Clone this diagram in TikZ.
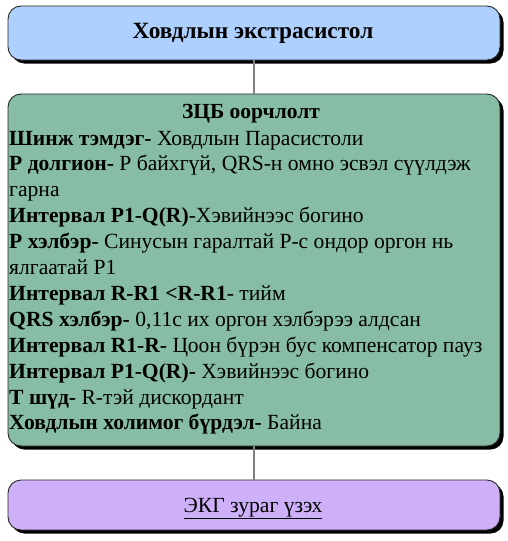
\documentclass[tikz,border=0pt]{standalone}
\usepackage{fontspec}
\setmainfont{Liberation Serif}
\newfontfamily\tnr{Liberation Serif}
\usetikzlibrary{shadows}
\definecolor{bluefill}{HTML}{AED0FF}
\definecolor{greenfill}{HTML}{86BDA4}
\definecolor{purplefill}{HTML}{CDB0F8}
\definecolor{linkgrey}{HTML}{808080}
\tikzset{
  box/.style={draw=black!85, line width=0.9pt, rounded corners=13pt, rectangle,
    minimum width=492pt, inner sep=0pt,
    drop shadow={shadow xshift=3.5pt, shadow yshift=-3.5pt, fill=black, opacity=1}},
  link/.style={draw=linkgrey, line width=1.2pt},
  txt/.style={font=\tnr\fontsize{21.6}{26}\selectfont, inner sep=0pt, text height=15pt, text depth=5pt},
  bold/.style={font=\tnr\fontsize{21.5}{26}\selectfont\bfseries},
  title/.style={font=\tnr\fontsize{23.3}{28}\selectfont\bfseries},
  line/.style={txt, anchor=west}
}
\begin{document}
\begin{tikzpicture}[x=1pt,y=-1pt]
\useasboundingbox (0,0) rectangle (508,541);
\node[box, fill=bluefill, minimum height=54pt] (top) at (254,33) {};
\node[box, fill=greenfill, minimum height=352pt] (mid) at (254,270) {};
\node[box, fill=purplefill, minimum height=50pt] (bot) at (254,505) {};
\draw[link] (top.south) -- (mid.north);
\draw[link] (mid.south) -- (bot.north);
\node[txt, title] (t1) at (253,33) {Ховдлын экстрасистол};
\node[txt] (t3) at (253,507) {\underline{ЭКГ зураг үзэх}};
\node[txt, bold] (h) at (251,113) {ЗЦБ оорчлолт};
\node[line] (l1) at (9,140) {\textbf{Шинж тэмдэг-} Ховдлын Парасистоли};
\node[line] (l2) at (9,165.9) {\textbf{Р долгион-} Р байхгүй, QRS-н омно эсвэл сүүлдэж};
\node[line] (l3) at (9,191.8) {гарна};
\node[line] (l4) at (9,217.7) {\textbf{Интервал P1-Q(R)}-Хэвийнээс богино};
\node[line] (l5) at (9,243.6) {\textbf{Р хэлбэр-} Синусын гаралтай Р-с ондор оргон нь};
\node[line] (l6) at (9,269.5) {ялгаатай Р1};
\node[line] (l7) at (9,295.4) {\textbf{Интервал R-R1 <R-R1}- тийм};
\node[line] (l8) at (9,321.3) {\textbf{QRS хэлбэр-} 0,11с их оргон хэлбэрээ алдсан};
\node[line] (l9) at (9,347.2) {\textbf{Интервал R1-R-} Цоон бүрэн бус компенсатор пауз};
\node[line] (l10) at (9,373.1) {\textbf{Интервал P1-Q(R)-} Хэвийнээс богино};
\node[line] (l11) at (9,399) {\textbf{Т шүд-} R-тэй дискордант};
\node[line] (l12) at (9,424.9) {\textbf{Ховдлын холимог бүрдэл-} Байна};
\end{tikzpicture}
\end{document}
